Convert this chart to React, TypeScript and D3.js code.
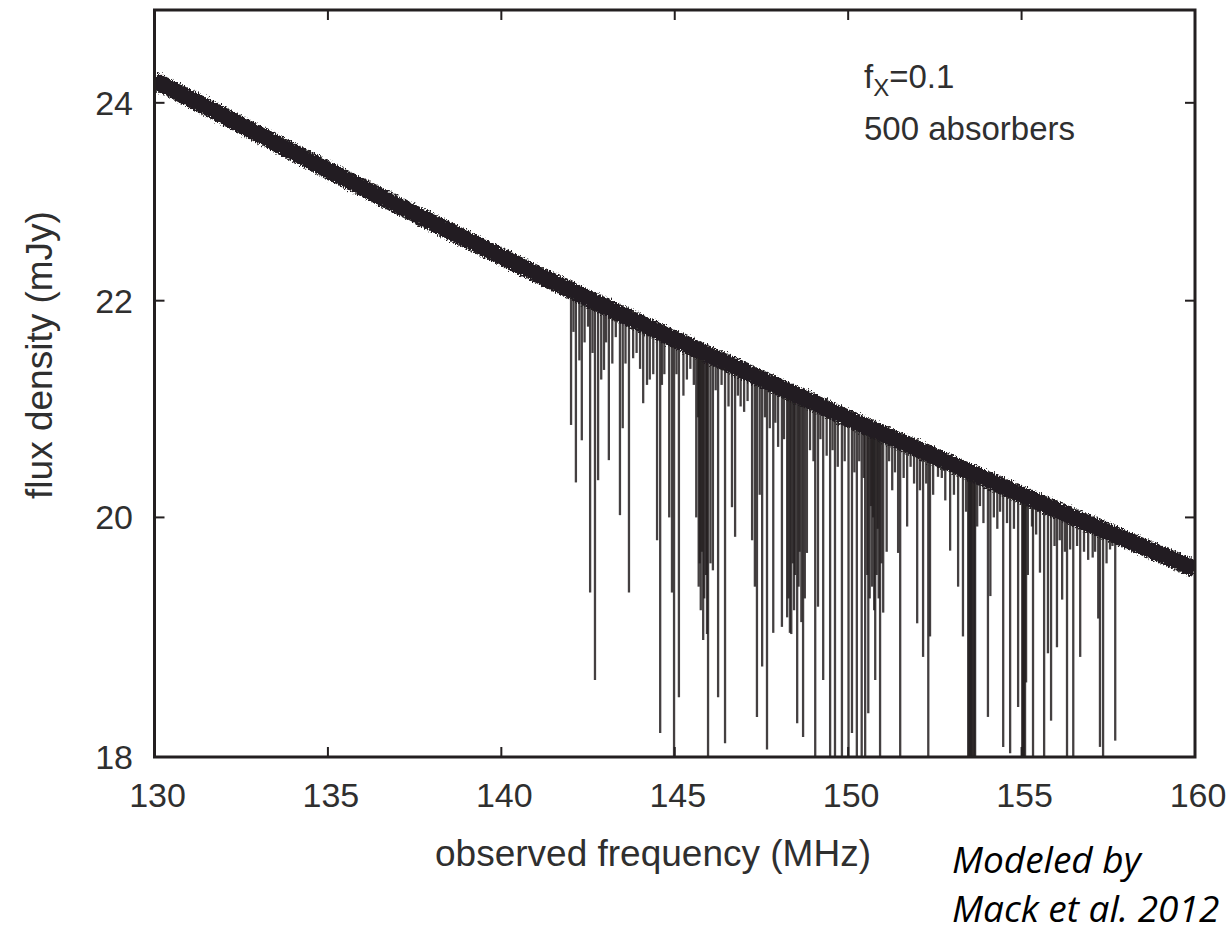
import * as d3 from 'd3'

const continuumFreq = [130, 135, 140, 145, 150, 155, 160]
const continuumFlux = [24.24, 23.3, 22.43, 21.63, 20.89, 20.2, 19.55]

// absorbers: [frequency MHz, minimum flux mJy]; 17.5 = runs off the bottom
const absorbers: [number, number][] = [
  [142.01, 20.83], [142.15, 20.31], [142.25, 21.43], [142.32, 20.69], [142.56, 19.35],
  [142.7, 18.62], [142.79, 20.33], [142.88, 21.25], [142.96, 21.34], [143.1, 20.51],
  [143.2, 21.4], [143.42, 20.02], [143.5, 20.8], [143.68, 19.35], [143.8, 21.45],
  [144.09, 21.03], [144.2, 21.2], [144.28, 21.25], [144.49, 19.8], [144.58, 18.19],
  [144.7, 21.3], [144.84, 20.0], [144.92, 19.35], [144.98, 17.5], [145.12, 18.48],
  [145.25, 21.1], [145.62, 20.0], [145.67, 20.9], [145.69, 19.4], [145.72, 19.6],
  [145.75, 19.2], [145.78, 19.7], [145.82, 18.95], [145.85, 19.3], [145.9, 19.5],
  [145.93, 19.0], [145.96, 17.5], [146.03, 19.6], [146.1, 19.54], [146.25, 18.48],
  [146.45, 18.11], [146.65, 20.09], [146.74, 19.83], [146.9, 21.0], [147.23, 19.8],
  [147.31, 19.4], [147.37, 18.32], [147.45, 20.2], [147.52, 18.73], [147.66, 18.06],
  [147.84, 19.01], [147.98, 20.63], [148.09, 19.06], [148.24, 19.14], [148.28, 19.3],
  [148.32, 19.01], [148.36, 19.0], [148.4, 19.6], [148.44, 19.2], [148.47, 19.5],
  [148.53, 18.27], [148.57, 19.4], [148.6, 19.7], [148.65, 19.1], [148.7, 18.16],
  [148.75, 19.3], [148.81, 19.69], [149.05, 17.5], [149.13, 19.23], [149.28, 18.62],
  [149.48, 17.5], [149.62, 17.5], [149.82, 17.5], [150.01, 17.5], [150.11, 18.19],
  [150.25, 17.5], [150.39, 17.5], [150.49, 17.5], [150.55, 19.5], [150.58, 18.35],
  [150.62, 19.3], [150.66, 20.1], [150.69, 19.4], [150.72, 20.0], [150.75, 19.2],
  [150.78, 18.62], [150.82, 19.5], [150.85, 19.9], [150.88, 19.3], [150.92, 17.5],
  [150.96, 19.6], [151.01, 19.18], [151.11, 19.7], [151.27, 20.24], [151.44, 19.69],
  [151.5, 17.5], [151.7, 19.92], [151.99, 19.09], [152.07, 20.24], [152.16, 18.81],
  [152.31, 17.5], [152.36, 18.98], [152.59, 20.36], [152.94, 19.71], [153.17, 19.4],
  [153.31, 18.98], [153.46, 17.5], [153.49, 17.5], [153.52, 17.5], [153.54, 17.5],
  [153.57, 17.5], [153.61, 17.5], [153.64, 17.5], [153.66, 17.5], [153.72, 19.92],
  [154.03, 18.32], [154.1, 19.32], [154.47, 18.08], [154.67, 18.03], [154.9, 18.4],
  [155.02, 17.5], [155.04, 17.5], [155.07, 17.5], [155.1, 17.5], [155.13, 18.6],
  [155.18, 19.5], [155.3, 19.92], [155.33, 17.5], [155.53, 19.52], [155.65, 17.5],
  [155.76, 18.84], [155.85, 18.29], [156.02, 18.89], [156.17, 19.29], [156.31, 17.5],
  [156.4, 19.72], [156.49, 17.5], [156.69, 18.81], [156.92, 19.63], [157.21, 19.13],
  [157.26, 18.08], [157.35, 17.5], [157.55, 19.72], [157.7, 18.13],
]

// weak absorbers that only just poke out under the band
const weakAbsorbers: [number, number][] = [
  [142.08, 21.7], [142.4, 21.6], [142.5, 21.75], [142.63, 21.5], [143.02, 21.6],
  [143.3, 21.65], [143.58, 21.4], [143.9, 21.5], [144.0, 21.35], [144.38, 21.3],
  [144.63, 21.2], [145.05, 21.3], [145.35, 21.25], [145.45, 21.35], [145.55, 21.2],
  [146.18, 21.15], [146.35, 21.2], [146.55, 21.0], [146.82, 21.1], [147.0, 20.95],
  [147.1, 21.05], [147.6, 20.9], [147.74, 20.8], [147.9, 20.85], [148.15, 20.7],
  [148.9, 20.6], [149.0, 20.5], [149.2, 20.7], [149.38, 20.55], [149.55, 20.6],
  [149.7, 20.45], [149.9, 20.5], [150.18, 20.4], [150.32, 20.5], [150.45, 20.35],
  [151.18, 20.5], [151.35, 20.4], [151.6, 20.35], [151.8, 20.45], [151.9, 20.3],
  [152.25, 20.3], [152.45, 20.2], [152.7, 20.35], [152.8, 20.15], [153.05, 20.2],
  [153.4, 20.05], [153.8, 20.1], [153.9, 19.95], [154.2, 20.0], [154.3, 19.9],
  [154.38, 20.05], [154.58, 19.95], [154.78, 19.9], [155.42, 19.85], [155.95, 19.75],
  [156.1, 19.8], [156.25, 19.7], [156.6, 19.75], [156.8, 19.7], [157.05, 19.65],
  [157.12, 19.7], [157.45, 19.6], [157.62, 19.75],
]

const xTicks = [130, 135, 140, 145, 150, 155, 160]
const yTicks = [18, 20, 22, 24]

const left = 154.5
const right = 1195
const top = 10
const bottom = 757
const ink = '#231f20'
const textColor = '#2f2f2f'
const font = '"Liberation Sans", Arial, sans-serif'

export default function App() {
  const x = d3.scaleLinear().domain([130, 160]).range([left, right])
  const y = d3.scaleLog().domain([18, 25]).range([bottom, top])
  const cont = d3.scaleLinear().domain(continuumFreq).range(continuumFlux)

  const band = d3
    .line<number>()
    .x((f) => x(f))
    .y((f, i) => y(continuumFlux[i]))
    .curve(d3.curveMonotoneX)(continuumFreq)

  const allAbsorbers = [...weakAbsorbers, ...absorbers]

  return (
    <svg
      width={1232}
      height={931}
      style={{ position: 'absolute', left: 0, top: 0, background: '#fff' }}
      fontFamily={font}
    >
      <defs>
        <clipPath id="plot">
          <rect x={left} y={top} width={right - left} height={bottom - top} />
        </clipPath>
        <filter id="rough" x="-2%" y="-10%" width="104%" height="120%">
          <feTurbulence type="fractalNoise" baseFrequency="0.7 0.5" numOctaves={2} seed={4} />
          <feDisplacementMap in="SourceGraphic" scale={7} xChannelSelector="R" yChannelSelector="G" />
        </filter>
      </defs>

      <g clipPath="url(#plot)">
        {allAbsorbers.map(([f, m], i) => (
          <line
            key={i}
            x1={x(f)}
            x2={x(f)}
            y1={y(cont(f))}
            y2={y(m)}
            stroke={ink}
            strokeWidth={2.3}
            strokeOpacity={0.85}
          />
        ))}
        <path d={band ?? ''} fill="none" stroke={ink} strokeWidth={17} filter="url(#rough)" />
      </g>

      {/* frame */}
      <rect x={left} y={top} width={right - left} height={bottom - top} fill="none" stroke={ink} strokeWidth={3} />

      {xTicks.slice(1, -1).map((t) => (
        <g key={t}>
          <line x1={x(t)} x2={x(t)} y1={bottom} y2={bottom - 10} stroke={ink} strokeWidth={2} />
          <line x1={x(t)} x2={x(t)} y1={top} y2={top + 10} stroke={ink} strokeWidth={2} />
        </g>
      ))}
      {xTicks.map((t) => (
        <text key={t} x={x(t) + 3} y={807} textAnchor="middle" fontSize={34} fill={textColor}>
          {t}
        </text>
      ))}

      {yTicks.slice(1).map((t) => (
        <g key={t}>
          <line x1={left} x2={left + 10} y1={y(t)} y2={y(t)} stroke={ink} strokeWidth={2} />
          <line x1={right} x2={right - 10} y1={y(t)} y2={y(t)} stroke={ink} strokeWidth={2} />
        </g>
      ))}
      {yTicks.map((t) => (
        <text key={t} x={133} y={y(t) + 12} textAnchor="end" fontSize={34} fill={textColor}>
          {t}
        </text>
      ))}

      <text x={653} y={866} textAnchor="middle" fontSize={37} fill={textColor}>
        observed frequency (MHz)
      </text>
      <text
        transform={`translate(52,355) rotate(-90)`}
        textAnchor="middle"
        fontSize={37}
        fill={textColor}
      >
        flux density (mJy)
      </text>

      <text x={864} y={88} fontSize={33} fill={textColor}>
        f<tspan fontSize={24} dy={8}>X</tspan>
        <tspan dy={-8}>=0.1</tspan>
      </text>
      <text x={864} y={140} fontSize={33} fill={textColor}>
        500 absorbers
      </text>

      <text x={952} y={873} fontSize={37} fontStyle="italic" fontFamily='"Open Sans", sans-serif' fill="#000">
        Modeled by
      </text>
      <text x={952} y={922} fontSize={37} fontStyle="italic" fontFamily='"Open Sans", sans-serif' fill="#000">
        Mack et al. 2012
      </text>
    </svg>
  )
}
